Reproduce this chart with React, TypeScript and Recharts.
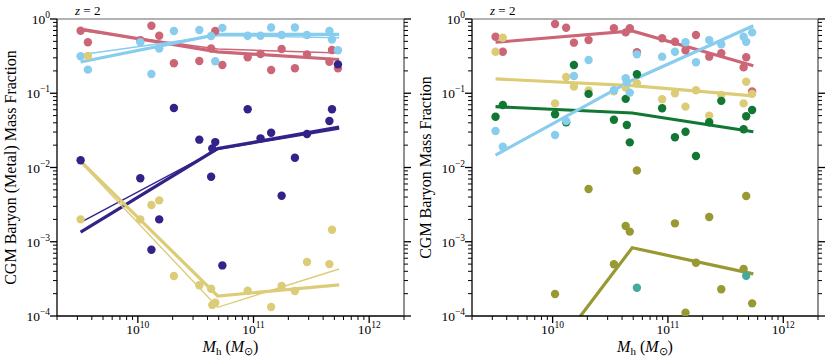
import React from "react";
import { ComposedChart, Scatter, Line, XAxis, YAxis, ReferenceLine } from "recharts";

// halo masses (Msun) shared by every scatter series
const halos = [
  3.2e9, 3.7e9, 1.05e10, 1.31e10, 1.53e10, 2.05e10, 3.4e10, 4.3e10, 4.4e10, 4.67e10,
  5.38e10, 8.9e10, 1.15e11, 1.42e11, 1.75e11, 2.28e11, 2.9e11, 4.53e11, 4.77e11, 5.37e11,
];

// left panel: baryon (metal) fractions per halo, null = no point
const leftRed = [0.695, 0.486, 0.52, 0.81, 0.596, 0.253, 0.272, 0.4, null, 0.69, 0.24, 0.305, 0.338, 0.206, 0.394, 0.217, 0.334, 0.266, 0.382, 0.217];
const leftBlue = [0.315, 0.208, 0.486, 0.182, 0.4, 0.69, 0.71, 0.59, null, 0.27, 0.76, 0.596, 0.596, 0.77, 0.61, 0.77, 0.61, 0.69, 0.53, 0.38];
const leftIndigo = [1.25e-2, null, 7.16e-3, 7.8e-4, 2.0e-3, 6.33e-2, 2.37e-2, 7.5e-3, 1.8e-2, 2.2e-2, 4.8e-4, 6.1e-2, 2.47e-2, 2.94e-2, 4.17e-3, 1.35e-2, 2.83e-2, 4.23e-2, 6.08e-2, 0.245];
const leftSand = [2.0e-3, 0.317, 2.0e-3, 3.13e-3, 3.61e-3, 3.46e-4, 2.59e-4, 2.33e-4, 1.41e-4, 1.51e-4, null, 2.19e-4, null, 1.32e-4, 2.54e-4, 2.17e-4, 5.33e-4, 5.0e-4, 1.45e-3, null];

// right panel
const rightRed = [0.578, 0.363, 0.857, 0.764, 0.48, 0.52, 0.75, 0.66, null, 0.75, 0.356, 0.55, 0.495, 0.38, 0.61, 0.311, 0.345, 0.223, 0.305, 0.106];
const rightBlue = [3.1e-2, 1.9e-2, 2.74e-2, 4.23e-2, 0.171, 0.28, 0.11, 0.159, 0.14, 0.102, 0.334, 0.311, 0.363, 0.486, 0.261, 0.52, 0.456, 0.578, 0.495, 0.66];
const rightSand = [0.363, 0.56, 7.3e-2, 0.166, 0.123, 0.109, 0.106, 0.119, null, null, 0.136, 8.3e-2, 9.98e-2, 6.6e-2, 0.11, 5.0e-2, 9.5e-2, 7.3e-2, 0.143, 0.098];
const rightGreen = [4.83e-2, 6.95e-2, 5.2e-2, 4.06e-2, 0.24, 9.8e-2, 4.4e-2, 8.4e-2, 3.74e-2, 2.18e-2, 0.18, 6.27e-2, 2.55e-2, 3.03e-2, 1.43e-2, 4.06e-2, 7.9e-2, 3.27e-2, 4.89e-2, 5.94e-2];
const rightOlive = [null, null, 1.98e-4, null, null, 5.13e-3, 4.97e-4, 1.63e-3, null, 1.37e-3, 9.1e-3, null, 1.77e-3, 1.11e-4, 5.22e-4, 2.15e-3, 2.29e-4, 4.3e-4, 4.13e-3, 1.48e-4];
const rightTeal = [null, null, null, null, null, null, null, null, null, null, 2.4e-4, null, null, null, null, null, null, null, 3.49e-4, null];

// broken power-law fits: start, break, end
const fitMass = [3.2e9, 4.9e10, 5.5e11];
const fitLeftRedThick = [0.73, 0.36, 0.285];
const fitLeftRedThin = [0.7, 0.394, 0.348];
const fitLeftBlueThick = [0.264, 0.62, 0.62];
const fitLeftBlueThin = [0.33, 0.6, 0.56];
const fitLeftIndigoThick = [1.35e-3, 1.8e-2, 3.5e-2];
const fitLeftIndigoThin = [1.83e-3, 1.75e-2, 3.3e-2];
const fitLeftSandThick = [1.22e-2, 1.86e-4, 2.62e-4];
const fitLeftSandThin = [1.18e-2, 1.31e-4, 4.3e-4];

const fitRightRed = [0.486, 0.69, 0.235];
const fitRightSand = [0.156, 0.127, 0.092];
const fitRightGreen = [6.6e-2, 5.42e-2, 3.03e-2];
const fitRightBlue = [1.47e-2, 0.15, 0.81];
const fitRightOlive = [3.1e-6, 8.3e-4, 3.7e-4];

const RED = "#CC6677";
const BLUE = "#88CCEE";
const INDIGO = "#332288";
const SAND = "#DDCC77";
const GREEN = "#117733";
const OLIVE = "#999933";
const TEAL = "#44AA99";
const FONT = "'Liberation Serif', 'Times New Roman', serif";

const pts = (vals: (number | null)[]) =>
  halos.map((m, i) => ({ m, f: vals[i] })).filter((p) => p.f != null);
const fit = (vals: number[]) => fitMass.map((m, i) => ({ m, f: vals[i] }));

const yTicks: number[] = [];
for (let e = -4; e <= 0; e++) {
  yTicks.push(Math.pow(10, e));
  if (e < 0) for (let k = 2; k <= 9; k++) yTicks.push(k * Math.pow(10, e));
}
const xTicks: number[] = [];
for (let e = 9; e <= 12; e++) {
  for (let k = 1; k <= 9; k++) {
    const v = k * Math.pow(10, e);
    if (v >= 2e9 && v <= 2e12) xTicks.push(v);
  }
}

const isMajor = (v: number) => Math.abs(Math.log10(v) - Math.round(Math.log10(v))) < 1e-6;
const expOf = (v: number) => String(Math.round(Math.log10(v))).replace("-", "\u2212");

const LeftTick = ({ x, y, payload }: any) => {
  const major = isMajor(payload.value);
  return (
    <g>
      <line x1={x - (major ? 7 : 4)} x2={x} y1={y} y2={y} stroke="#000" strokeWidth={major ? 1.3 : 1} />
      {major && (
        <text x={x - 7} y={y + 5} textAnchor="end" fontFamily={FONT} fontSize={13.5} fill="#000">
          10<tspan dy={-6} fontSize={9.5}>{expOf(payload.value)}</tspan>
        </text>
      )}
    </g>
  );
};

const RightTick = ({ x, y, payload }: any) => {
  const major = isMajor(payload.value);
  return <line x1={x} x2={x + (major ? 7 : 4)} y1={y} y2={y} stroke="#000" strokeWidth={major ? 1.3 : 1} />;
};

const BottomTick = ({ x, y, payload }: any) => {
  const major = isMajor(payload.value);
  return (
    <g>
      <line x1={x} x2={x} y1={y} y2={y + (major ? 7 : 4)} stroke="#000" strokeWidth={major ? 1.3 : 1} />
      {major && (
        <text x={x} y={y + 18} textAnchor="middle" fontFamily={FONT} fontSize={13.5} fill="#000">
          10<tspan dy={-6} fontSize={9.5}>{expOf(payload.value)}</tspan>
        </text>
      )}
    </g>
  );
};

const XTitle = ({ viewBox }: any) => {
  const cx = viewBox.x + viewBox.width / 2;
  return (
    <text x={cx} y={viewBox.y + 36} textAnchor="middle" fontFamily={FONT} fontSize={16} fill="#000">
      <tspan fontStyle="italic">M</tspan>
      <tspan fontSize={11} dy={3}>h</tspan>
      <tspan dy={-3}> (</tspan>
      <tspan fontStyle="italic">M</tspan>
      <tspan fontSize={11} dy={3}>{"\u2299"}</tspan>
      <tspan dy={-3}>)</tspan>
    </text>
  );
};

const makeYTitle = (title: string) => ({ viewBox }: any) => (
  <g>
    <text
      x={16}
      y={viewBox.y + viewBox.height / 2}
      transform={`rotate(-90 16 ${viewBox.y + viewBox.height / 2})`}
      textAnchor="middle"
      fontFamily={FONT}
      fontSize={16}
      fill="#000"
    >
      {title}
    </text>
    <text x={viewBox.x + viewBox.width + 18} y={viewBox.y - 4} fontFamily={FONT} fontSize={13} fill="#000">
      <tspan fontStyle="italic">z</tspan> = 2
    </text>
  </g>
);

const dot = (color: string) => (p: any) => <circle cx={p.cx} cy={p.cy} r={4.2} fill={color} />;

interface ScatterSpec { vals: (number | null)[]; color: string; }
interface FitSpec { vals: number[]; color: string; width: number; }

function Panel({ title, scatters, fits, rightW }: { title: string; scatters: ScatterSpec[]; fits: FitSpec[]; rightW: number }) {
  return (
    <ComposedChart width={415} height={360} margin={{ top: 19, right: 0, bottom: 0, left: 0 }}>
      <XAxis
        dataKey="m"
        type="number"
        scale="log"
        domain={[2e9, 2e12]}
        allowDataOverflow
        ticks={xTicks}
        interval={0}
        height={44}
        tickSize={0}
        tickMargin={0}
        tickLine={false}
        tick={<BottomTick />}
        axisLine={{ stroke: "#000", strokeWidth: 1.3 }}
        label={<XTitle />}
      />
      <YAxis
        dataKey="f"
        type="number"
        scale="log"
        domain={[1e-4, 1]}
        allowDataOverflow
        ticks={yTicks}
        interval={0}
        width={57}
        tickSize={0}
        tickMargin={0}
        tickLine={false}
        tick={<LeftTick />}
        axisLine={{ stroke: "#000", strokeWidth: 1.3 }}
        label={React.createElement(makeYTitle(title))}
      />
      <YAxis
        yAxisId="r"
        orientation="right"
        type="number"
        scale="log"
        domain={[1e-4, 1]}
        allowDataOverflow
        ticks={yTicks}
        interval={0}
        width={rightW}
        tickSize={0}
        tickMargin={0}
        tickLine={false}
        tick={<RightTick />}
        axisLine={{ stroke: "#555", strokeWidth: 1.3 }}
      />
      <ReferenceLine y={1} stroke="#999" strokeWidth={1.5} />
      {scatters.map((s, i) => (
        <Scatter key={`s${i}`} data={pts(s.vals)} dataKey="f" fill={s.color} shape={dot(s.color)} isAnimationActive={false} />
      ))}
      {fits.map((l, i) => (
        <Line
          key={`l${i}`}
          data={fit(l.vals)}
          dataKey="f"
          type="linear"
          stroke={l.color}
          strokeWidth={l.width}
          dot={false}
          activeDot={false}
          isAnimationActive={false}
        />
      ))}
    </ComposedChart>
  );
}

export default function App() {
  return (
    <div style={{ position: "absolute", left: 0, top: 0, width: 830, height: 360, background: "#fff" }}>
      <div style={{ position: "absolute", left: 0, top: 0 }}>
        <Panel
          title="CGM Baryon (Metal) Mass Fraction"
          rightW={11}
          scatters={[
            { vals: leftRed, color: RED },
            { vals: leftBlue, color: BLUE },
            { vals: leftSand, color: SAND },
            { vals: leftIndigo, color: INDIGO },
          ]}
          fits={[
            { vals: fitLeftRedThick, color: RED, width: 3.2 },
            { vals: fitLeftRedThin, color: RED, width: 1.4 },
            { vals: fitLeftBlueThick, color: BLUE, width: 3.2 },
            { vals: fitLeftBlueThin, color: BLUE, width: 1.4 },
            { vals: fitLeftIndigoThick, color: INDIGO, width: 3.2 },
            { vals: fitLeftIndigoThin, color: INDIGO, width: 1.4 },
            { vals: fitLeftSandThick, color: SAND, width: 3.2 },
            { vals: fitLeftSandThin, color: SAND, width: 1.4 },
          ]}
        />
      </div>
      <div style={{ position: "absolute", left: 415, top: 0 }}>
        <Panel
          title="CGM Baryon Mass Fraction"
          rightW={12}
          scatters={[
            { vals: rightRed, color: RED },
            { vals: rightSand, color: SAND },
            { vals: rightGreen, color: GREEN },
            { vals: rightBlue, color: BLUE },
            { vals: rightOlive, color: OLIVE },
            { vals: rightTeal, color: TEAL },
          ]}
          fits={[
            { vals: fitRightRed, color: RED, width: 3.2 },
            { vals: fitRightSand, color: SAND, width: 3.2 },
            { vals: fitRightGreen, color: GREEN, width: 3.2 },
            { vals: fitRightBlue, color: BLUE, width: 3.2 },
            { vals: fitRightOlive, color: OLIVE, width: 3.2 },
          ]}
        />
      </div>
    </div>
  );
}
